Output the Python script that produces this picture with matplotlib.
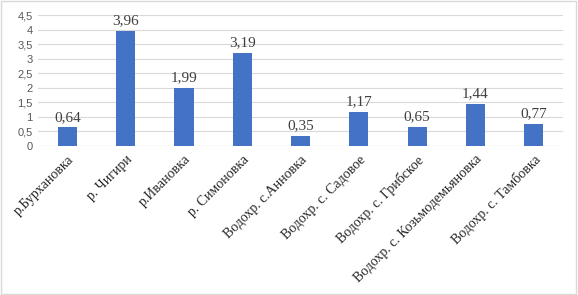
import matplotlib
matplotlib.use("Agg")
import matplotlib.pyplot as plt
from matplotlib.patches import Rectangle

categories = ["р.Бурхановка", "р. Чигири", "р.Ивановка", "р. Симоновка",
              "Водохр. с.Анновка", "Водохр. с. Садовое", "Водохр. с. Грибское",
              "Водохр. с. Козьмодемьяновка", "Водохр. с. Тамбовка"]
values = [0.64, 3.96, 1.99, 3.19, 0.35, 1.17, 0.65, 1.44, 0.77]
yticks = [0, 0.5, 1, 1.5, 2, 2.5, 3, 3.5, 4, 4.5]

def fmt(v):
    return ("%g" % v).replace(".", ",")

fig = plt.figure(figsize=(5.78, 2.95), dpi=100)
ax = fig.add_axes([0.066, 0.505, 0.908, 0.444])
x = list(range(len(categories)))
ax.bar(x, values, width=0.33, color="#4472C4", zorder=3)
for xi, v in zip(x, values):
    ax.text(xi, v + 0.12, ("%.2f" % v).replace(".", ","), ha="center", va="bottom",
            fontsize=11, family="Liberation Serif", color="#404040")
ax.set_xlim(-0.5, len(categories) - 0.5)
ax.set_ylim(0, 4.5)
ax.set_yticks(yticks)
ax.set_yticklabels([fmt(v) for v in yticks], fontsize=8, color="#595959",
                   family="Liberation Sans")
ax.set_xticks(x)
ax.set_xticklabels(categories, rotation=45, ha="right", rotation_mode="anchor",
                   fontsize=10, family="Liberation Serif", color="#262626")
ax.tick_params(axis="y", length=0, pad=4)
ax.tick_params(axis="x", length=0, pad=5)
ax.grid(axis="y", color="#D9D9D9", linewidth=0.8, zorder=0)
for s in ax.spines.values():
    s.set_visible(False)
ax.axhline(0, color="#D9D9D9", linewidth=0.8, zorder=1)
fig.patches.append(Rectangle((0.002, 0.003), 0.995, 0.993, transform=fig.transFigure,
                             fill=False, edgecolor="#D9D9D9", linewidth=1))
fig.savefig("out.png", dpi=100)
